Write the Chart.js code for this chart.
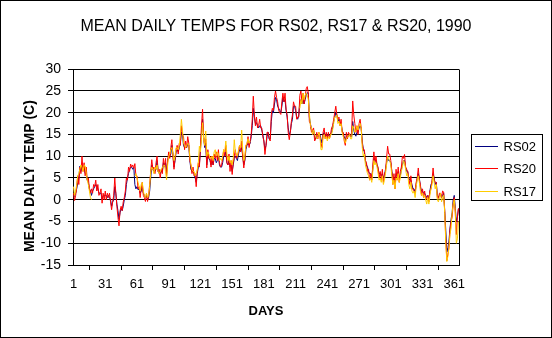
<!DOCTYPE html>
<html>
<head>
<meta charset="utf-8">
<script src="https://cdn.jsdelivr.net/npm/chart.js@4/dist/chart.umd.min.js"></script>
<style>
  html, body { margin: 0; padding: 0; background: #ffffff; }
  #wrap { width: 552px; height: 338px; }
</style>
</head>
<body>
<div id="wrap"><canvas id="c" width="552" height="338"></canvas></div>
<script>
// ---- categories (day of year) ----
const days = Array.from({ length: 365 }, (_, i) => String(i + 1));
const tickLabels = ['1', '31', '61', '91', '121', '151', '181', '211', '241', '271', '301', '331', '361'];
const seriesNames = ['RS02', 'RS20', 'RS17'];
const yAxisTitle = 'MEAN DAILY TEMP (C)';

// ---- RS02 (°C), days 1..365 ----
const rs02 = [
  1, 0.8, 1.5, 2.5, 4, 5, 7.7, 6.5, 8, 7,
  7.5, 6, 6, 4.5, 4, 2.5, 2, 1, 2, 2.5,
  3, 3.5, 3, 2.5, 1.5, 1.5, 1.5, 0, 1, 1,
  1, 1, 0.5, 1, 0.5, 0, -1.5, -0.5, 0, 3,
  1.5, -1, -2.5, -4.5, -3, -2, -2.5, -1.5, 0, 1,
  3.5, 5, 6, 7, 7.5, 7.5, 7, 7.5, 3.5, 2.5,
  3, 2.3, 2.5, 1.5, 2, 3, 1.5, 1, 0.5, 1,
  0, 0.5, 2, 5, 8, 7, 6.5, 6.5, 7, 9,
  6.5, 6, 6, 6.5, 6.5, 8.5, 8, 8.5, 6, 9,
  10, 10, 10.5, 12.5, 10.5, 7.5, 9, 11, 11.5, 11,
  12, 13, 15.5, 15, 12.5, 12, 12, 12, 13, 12.5,
  9, 7, 6.5, 6.5, 6, 5, 4, 6, 7.5, 8,
  11.5, 15.5, 18.5, 14.5, 12, 13, 8, 10.5, 9.5, 9,
  8, 9, 8, 9.5, 9.5, 8.5, 9, 10, 8, 7.5,
  7.5, 8.5, 10, 10, 11, 8.5, 8, 9, 7.5, 8,
  6.5, 8, 9.5, 10, 9.5, 9, 10.5, 11.5, 11, 12,
  10, 8, 9, 11.5, 12.5, 13, 12.5, 13, 14.5, 17,
  21, 19, 17.5, 17.7, 17, 16.5, 17, 17, 16, 15,
  13.5, 11.5, 12.5, 14.5, 15.5, 14, 14, 18, 20.5, 20,
  22, 23.5, 23, 21.5, 21, 20.5, 20, 21.5, 23.5, 22.5,
  23, 20.5, 19, 16.5, 15, 15.5, 17.5, 18.5, 21.5, 21.5,
  20.5, 19, 18.5, 19.5, 22.5, 23, 22, 23, 22, 23,
  24, 24.6, 24.5, 19, 17.5, 16, 15.5, 16, 14.5, 14,
  14.5, 14.5, 15, 15, 14, 13, 15, 15.5, 14.5, 15,
  14.5, 15, 14.5, 15, 15.5, 16.5, 18, 19, 20, 19.5,
  18, 18.5, 17.5, 17.5, 16, 15, 14.5, 13.5, 14.5, 14.5,
  14.5, 15, 14.5, 14.5, 18, 16, 15, 14.6, 15.5, 15.5,
  16.5, 17, 16.5, 13.5, 11.5, 11, 9, 8, 7.5, 6.5,
  6, 6, 5, 7, 9.5, 9, 9, 8, 7, 6,
  6, 5.5, 6, 5, 5.5, 7, 8.5, 9.5, 9, 9,
  8.5, 6.5, 5, 5, 4, 6, 5.5, 6.5, 5, 5.5,
  7, 8, 9, 9, 7.5, 6.5, 6.5, 5, 4.5, 4.5,
  3.5, 2.5, 2.5, 1.5, 3.5, 5, 6, 5, 3, 2,
  2, 1.5, 1.5, 1, 0.5, 1, 0, 2, 3.5, 4,
  6, 5, 3.5, 4, 1, 0.5, 1, 1.5, 0.5, 1,
  1.5, -2.7, -7, -12, -11, -9.5, -6.5, -4.5, -3, 0,
  1, -2, -5, -4, -2
];

// ---- RS20 (°C), days 1..365 ----
const rs20 = [
  1.5, -0.2, 1, 3, 5.5, 3.5, 7.5, 6, 10, 6.5,
  8.5, 5.5, 7.5, 4.5, 5, 2.5, 1.5, 2.5, 1.5, 3.5,
  3, 4.5, 2, 3.5, 1, 1.5, 2.5, -0.8, 1.5, 0,
  2, 0, 1.5, 0.5, 1.5, -0.5, -2.3, -0.5, 1, 5,
  1.5, -1.5, -4, -6, -2.5, -1.5, -2.5, -0.5, 0.5, 2,
  5, 4.5, 7.5, 6.5, 8.2, 7.5, 8, 7.2, 8.3, 5.5,
  5.5, 2.5, 3, 0.5, 2.5, 4, 1, 0.5, -0.4, 1.5,
  -0.4, 1, 3.5, 6.5, 9.2, 7, 7.5, 6, 8.5, 10,
  6.5, 7, 5, 7, 6, 9.5, 7.5, 9.5, 5.5, 9,
  11, 9.5, 12, 13.8, 10, 7, 9.5, 11.5, 12.5, 10.5,
  13, 12.5, 17, 15, 14.5, 11.5, 13.5, 12, 14.5, 13,
  9, 8, 6, 7.5, 5.5, 6, 3, 6.5, 8.5, 7.5,
  12, 17, 20.8, 14.5, 12.5, 14, 7.3, 11.5, 9.5, 10,
  7.5, 10, 8, 10.5, 9.5, 11, 9, 11.5, 8.5, 7.5,
  8, 9.5, 11.5, 10, 12.5, 8.5, 8, 10.5, 6.5, 9,
  5.8, 8.5, 10, 11.5, 9.5, 10, 11, 12.5, 11, 13.5,
  10, 7.3, 9.5, 12.5, 12.5, 14.5, 12, 13.5, 15, 18.5,
  23.8, 19.5, 17, 19, 16.5, 17, 18.5, 16.5, 16.5, 14.5,
  13.5, 10.4, 12.5, 15.5, 15.5, 14, 13.5, 19.5, 21, 20.5,
  23.5, 25, 23.5, 22.5, 20.5, 20, 19.6, 22.5, 24.5, 22.5,
  24.5, 20.8, 19.5, 15.5, 13.8, 15.5, 18, 19.5, 22.5, 21.5,
  21.5, 18.5, 19, 19, 24, 25, 22.5, 24.5, 22, 23.5,
  25.5, 26, 24.5, 18, 17.5, 15.5, 16, 16.5, 13.5, 14,
  15.5, 14, 15.5, 14.5, 13, 12, 15.5, 16.5, 14, 15.5,
  14, 15.5, 14, 15, 16.5, 17, 18.5, 20, 21.5, 19.5,
  18.5, 19, 17, 18.5, 15.5, 15.5, 13.5, 12.5, 15.5, 14,
  15.5, 15, 14.5, 15.5, 22.7, 19.5, 17.5, 15.5, 17, 15,
  17.5, 18.5, 16.5, 13, 11.5, 11.5, 9, 8.5, 6.5, 7,
  4.5, 6, 4.5, 8, 11, 8.5, 10, 8, 7.5, 5,
  6.5, 4.5, 7, 4, 6, 6.5, 9.5, 12.3, 10.5, 10.5,
  9, 6.5, 3.5, 6, 2.5, 7, 4.5, 7.5, 4, 6.5,
  7.5, 10, 9.5, 10.4, 7.5, 7, 6.5, 5, 3.5, 5.5,
  2.5, 2.5, 2, 1.5, 4, 5, 7.3, 4.5, 3.5, 1,
  2.5, 0.5, 2, 0, 0.5, 1, -0.5, 2, 2.5, 4.5,
  7.3, 4.5, 4, 4, 0.5, 0.3, 1.5, 1.5, 0.5, 2,
  1.8, -2.5, -9, -14, -12.5, -11, -7, -5, -4, -1,
  0.5, -3, -8, -4, -2
];

// ---- RS17 (°C), days 1..365 (null = no record) ----
const rs17 = [
  3, 1, 2, 3.5, 5.5, 6, 7, 8, 7.5, 6.5,
  8, 7.8, 6, 4.5, 3.5, 2, 0.5, 0, null, null,
  null, null, null, null, null, null, null, null, null, null,
  null, null, null, null, null, null, null, null, null, null,
  null, null, null, null, null, null, null, null, null, null,
  null, null, null, null, null, null, null, null, 5.5, 6,
  5, 4, 3, 2, 3.5, 4, 2, 1, 0.5, 1.5,
  0.5, 1, 3, 6.5, 7.5, 7, 6, 7.5, 7, 8,
  6.5, 6, 6.5, 7, 7.5, 7.7, 8, 6.5, 4.6, 8,
  10, 10.5, 11.5, 12, 10.5, 9, 10, 12, 12, 11.5,
  12.5, 15, 18.5, 16, 13, 12.5, 12, 12.5, 13, 12.5,
  10, 8, 7, 6.5, 6.5, 5.5, 6, 7, 8.5, 12.3,
  11, 14, 17.7, 14, 12.5, 15.8, 10, 11, 10.5, 9.5,
  9.5, 10, 9, 11, 11.5, 10, 11, 10.5, 9, 9.5,
  9, 10, 11.5, 11, 13.5, 10.5, 9, 10, 8.5, 9,
  8, 9.5, 13.8, 11, 10.5, 10, 11.5, 12.5, 12, 16,
  11.5, 9, 10, 12.5, 13, 14, 13, 13.5, null, null,
  null, null, null, null, null, null, null, null, null, null,
  null, null, null, null, null, null, null, null, null, null,
  null, null, null, null, null, null, null, null, null, null,
  null, null, null, null, null, null, null, null, null, null,
  null, null, null, null, 21, 23, 22, 24.5, 23, 24,
  24.5, 24, 23, 20, 17, 16.5, 15, 16, 15, 14.5,
  14, 14.5, 15.5, 14.5, 11.5, 11.5, 14.5, 15, 14, 14.5,
  13.5, 14.5, 14, 15, 15, 16, 17.5, 19, 19, 19.5,
  17.5, 18, 17, 17.5, 15.5, 14.5, 14, 13, 14, 14.5,
  14.5, 15, 14, 14, 17, 16.5, 15.5, 16, 17, 16,
  17, 17.5, 16.5, 12, 10, 10.5, 8, 7, 6, 5.5,
  4.5, 5, 4, 6.5, 9, 8, 8.5, 7.5, 6, 4.5,
  5, 4, 5.5, 3.5, 4.5, 6, 8, 10, 9.5, 9,
  8, 5.5, 3.5, 4.5, 2.5, 5, 4.5, 6, 4, 5,
  6.5, 7.5, 9, 8.5, 7, 5.5, 6, 3.5, 2.5, 4,
  2, 1.5, 2, 0.5, 3, 4.5, 5.5, 4, 2, 1,
  1.5, 0.5, 1, 0, -1, 0.5, -1, 1, 2.5, 3.5,
  5.5, 4, 2.5, 3.5, 0, -0.5, 0.5, 1.5, -0.5, 0.5,
  1, -3, -10, -14.2, -13, -11, -8, -6.5, -3, -1,
  0, -3, -10, -9, -5
];

[rs02, rs20, rs17].forEach((a, i) => {
  if (a.length !== 365) throw new Error(seriesNames[i] + ' length ' + a.length);
});

const FONT = "'Liberation Sans', Arial, Helvetica, sans-serif";

const frame = {
  id: 'frame',
  afterDraw(chart) {
    const { ctx, chartArea: a } = chart;
    ctx.save();
    ctx.strokeStyle = '#000';
    ctx.lineWidth = 1;
    ctx.beginPath();
    const r = Math.round(a.right) + 0.5;
    ctx.moveTo(r, Math.round(a.top) + 0.5);
    ctx.lineTo(r, Math.round(a.bottom) + 0.5);
    ctx.stroke();
    ctx.strokeRect(0.5, 0.5, chart.width - 1, chart.height - 1);
    // y-axis title (placed slightly below the plot centre, as in the original)
    ctx.save();
    ctx.translate(30, (a.top + a.bottom) / 2 + 9);
    ctx.rotate(-Math.PI / 2);
    ctx.font = 'bold 14px ' + FONT;
    ctx.fillStyle = '#000';
    ctx.textAlign = 'center';
    ctx.textBaseline = 'middle';
    ctx.fillText(yAxisTitle, 0, 0);
    ctx.restore();
    ctx.restore();
  }
};

const boxLegend = {
  id: 'boxLegend',
  afterDraw(chart) {
    const { ctx, chartArea: a } = chart;
    const bx = Math.round(a.right) + 12.5;
    const bw = 71, bh = 66;
    const by = Math.round((a.top + a.bottom) / 2 - bh / 2) + 0.5;
    ctx.save();
    ctx.fillStyle = '#fff';
    ctx.fillRect(bx, by, bw, bh);
    ctx.strokeStyle = '#000';
    ctx.lineWidth = 1;
    ctx.strokeRect(bx, by, bw, bh);
    ctx.font = '13px ' + FONT;
    ctx.textBaseline = 'middle';
    ctx.textAlign = 'left';
    chart.data.datasets.forEach((ds, i) => {
      const y = Math.round(by + 11.5 + i * 22.3) + 0.5;
      ctx.strokeStyle = ds.borderColor;
      ctx.beginPath();
      ctx.moveTo(bx + 3.5, y);
      ctx.lineTo(bx + 26.5, y);
      ctx.stroke();
      ctx.fillStyle = '#000';
      ctx.fillText(ds.label, bx + 32, y + 0.5);
    });
    ctx.restore();
  }
};

new Chart(document.getElementById('c'), {
  type: 'line',
  data: {
    labels: days,
    datasets: [
      { label: seriesNames[0], data: rs02, borderColor: '#000080', order: 3, yAxisID: 'y' },
      { label: seriesNames[1], data: rs20, borderColor: '#FF0000', order: 2, yAxisID: 'y' },
      { label: seriesNames[2], data: rs17, borderColor: '#FFCC00', order: 1, yAxisID: 'y' }
    ]
  },
  options: {
    responsive: false,
    animation: false,
    devicePixelRatio: 1,
    layout: { padding: 0 },
    elements: {
      line: { borderWidth: 1, tension: 0, fill: false },
      point: { radius: 0, hoverRadius: 0 }
    },
    datasets: { line: { spanGaps: false } },
    plugins: {
      legend: { display: false },
      tooltip: { enabled: false },
      title: {
        display: true,
        text: 'MEAN DAILY TEMPS FOR RS02, RS17 & RS20, 1990',
        color: '#000',
        font: { family: FONT, size: 16, weight: 'normal' },
        padding: { top: 17, bottom: 33 }
      }
    },
    scales: {
      x: {
        type: 'category',
        offset: true,
        afterFit(s) { s.height = 73; },
        grid: {
          offset: true,
          drawOnChartArea: false,
          drawTicks: true,
          tickLength: 5,
          color: (c) => (c.tick && c.tick.label) ? '#000' : 'rgba(0,0,0,0)'
        },
        border: { display: true, color: '#000', width: 1 },
        ticks: {
          autoSkip: false,
          maxRotation: 0,
          minRotation: 0,
          padding: 7,
          color: '#000',
          font: { family: FONT, size: 13 },
          callback(val, idx) {
            const l = days[idx];
            return tickLabels.includes(l) ? l : null;
          }
        },
        title: {
          display: true,
          text: 'DAYS',
          color: '#000',
          font: { family: FONT, size: 13, weight: 'bold' },
          padding: { top: 0, bottom: 19 }
        }
      },
      y: {
        position: 'left',
        min: -15,
        max: 30,
        afterFit(s) { s.width = 73; },
        grid: { color: '#000', lineWidth: 1, drawTicks: true, tickLength: 5 },
        border: { display: true, color: '#000', width: 1 },
        ticks: {
          stepSize: 5,
          padding: 7,
          color: '#000',
          font: { family: FONT, size: 14 }
        },
        title: { display: false, text: yAxisTitle }
      },
      legendSpace: {
        type: 'linear',
        position: 'right',
        display: true,
        afterFit(s) { s.width = 93; },
        grid: { drawOnChartArea: false, drawTicks: false },
        border: { display: false },
        ticks: { display: false }
      }
    }
  },
  plugins: [frame, boxLegend]
});
</script>
</body>
</html>
